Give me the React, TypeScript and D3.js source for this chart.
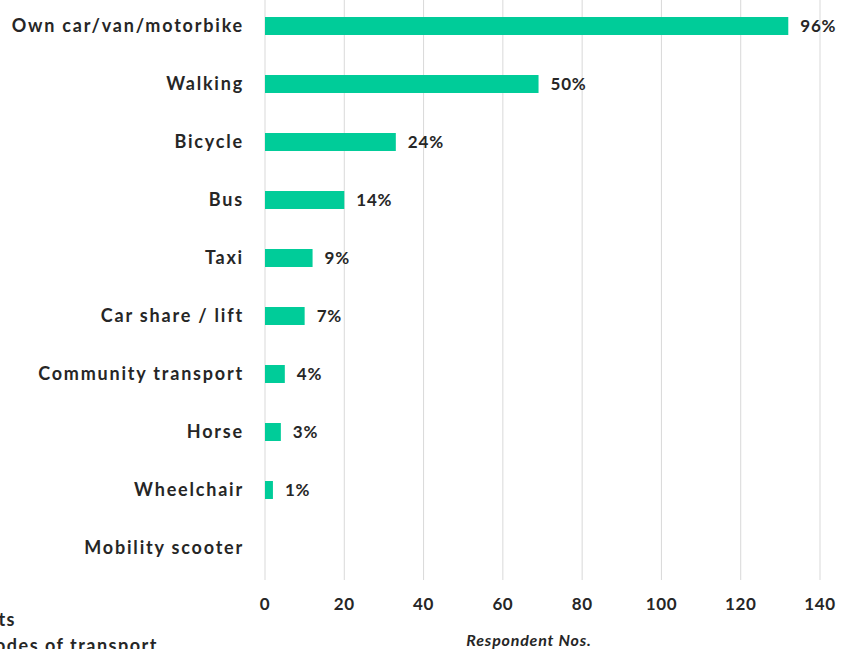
import React, { useEffect, useRef } from 'react';
import * as d3 from 'd3';

const categories = [
  'Own car/van/motorbike',
  'Walking',
  'Bicycle',
  'Bus',
  'Taxi',
  'Car share / lift',
  'Community transport',
  'Horse',
  'Wheelchair',
  'Mobility scooter',
];
const respondents = [132, 69, 33, 20, 12, 10, 5, 4, 2, 0];
const percentLabels = ['96%', '50%', '24%', '14%', '9%', '7%', '4%', '3%', '1%', ''];
const xTicks = [0, 20, 40, 60, 80, 100, 120, 140];

const W = 843;
const H = 649;
const FONT = 'Lato, "Open Sans", sans-serif';
const TEXT = '#262626';

const App = () => {
  const ref = useRef<SVGSVGElement>(null);

  useEffect(() => {
    const svg = d3.select(ref.current);
    svg.selectAll('*').remove();

    // scales
    const x = d3.scaleLinear().domain([0, 140]).range([265, 820]);
    const y = d3.scaleBand<string>()
      .domain(categories)
      .range([-3, 577])
      .paddingInner(0.69)
      .paddingOuter(0.345);

    // gridlines
    svg.append('g')
      .selectAll('line')
      .data(xTicks)
      .enter()
      .append('line')
      .attr('x1', d => x(d))
      .attr('x2', d => x(d))
      .attr('y1', 0)
      .attr('y2', 580)
      .attr('stroke', '#d9d9d9')
      .attr('stroke-width', 1);

    // x tick labels
    svg.append('g')
      .selectAll('text')
      .data(xTicks)
      .enter()
      .append('text')
      .attr('x', d => x(d))
      .attr('y', 604)
      .attr('dy', '0.35em')
      .attr('text-anchor', 'middle')
      .attr('font-family', FONT)
      .attr('font-weight', 'bold')
      .attr('font-size', 17)
      .attr('letter-spacing', 0.6)
      .attr('fill', TEXT)
      .text(d => d);

    // axis title
    svg.append('text')
      .attr('x', 529)
      .attr('y', 640)
      .attr('dy', '0.35em')
      .attr('text-anchor', 'middle')
      .attr('font-family', FONT)
      .attr('font-weight', 'bold')
      .attr('font-style', 'italic')
      .attr('font-size', 16)
      .attr('letter-spacing', 0.8)
      .attr('fill', TEXT)
      .text('Respondent  Nos.');

    // bars
    const rows = categories.map((c, i) => ({ c, v: respondents[i], lbl: percentLabels[i] }));
    svg.append('g')
      .selectAll('rect')
      .data(rows)
      .enter()
      .append('rect')
      .attr('x', x(0))
      .attr('y', d => y(d.c)!)
      .attr('width', d => x(d.v) - x(0))
      .attr('height', y.bandwidth())
      .attr('fill', '#00cc99');

    // value labels
    svg.append('g')
      .selectAll('text')
      .data(rows)
      .enter()
      .append('text')
      .attr('x', d => x(d.v) + 12)
      .attr('y', d => y(d.c)! + y.bandwidth() / 2)
      .attr('dy', '0.35em')
      .attr('font-family', FONT)
      .attr('font-weight', 'bold')
      .attr('font-size', 17)
      .attr('letter-spacing', 0.8)
      .attr('fill', TEXT)
      .text(d => d.lbl);

    // category labels
    svg.append('g')
      .selectAll('text')
      .data(categories)
      .enter()
      .append('text')
      .attr('x', 244)
      .attr('y', d => y(d)! + y.bandwidth() / 2)
      .attr('dy', '0.35em')
      .attr('text-anchor', 'end')
      .attr('font-family', FONT)
      .attr('font-weight', 'bold')
      .attr('font-size', 18)
      .attr('letter-spacing', 1.8)
      .attr('fill', TEXT)
      .text(d => d);

    // cropped legend text bottom-left
    const legend = ['Respondents', 'All modes of transport'];
    svg.append('g')
      .selectAll('text')
      .data(legend)
      .enter()
      .append('text')
      .attr('x', (d, i) => (i === 0 ? 16 : 158))
      .attr('y', (d, i) => 620 + i * 26)
      .attr('dy', '0.35em')
      .attr('text-anchor', 'end')
      .attr('font-family', FONT)
      .attr('font-weight', 'bold')
      .attr('font-size', 18)
      .attr('letter-spacing', 1.5)
      .attr('fill', TEXT)
      .text(d => d);
  }, []);

  return (
    <svg
      ref={ref}
      width={W}
      height={H}
      style={{ position: 'absolute', left: 0, top: 0, background: '#fff' }}
    />
  );
};

export default App;
